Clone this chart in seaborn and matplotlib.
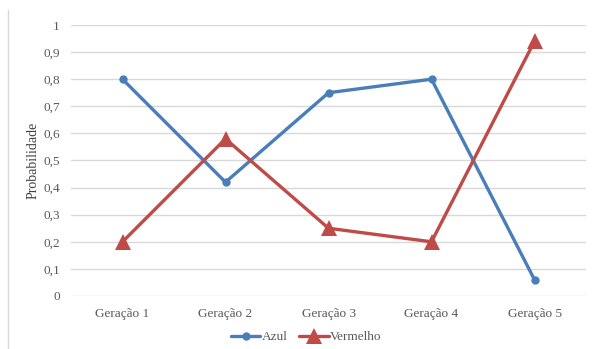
import matplotlib
matplotlib.use("Agg")
import matplotlib.pyplot as plt
from matplotlib.lines import Line2D
from matplotlib.ticker import FuncFormatter, MultipleLocator
import seaborn as sns
import pandas as pd

geracoes = ["Geração 1", "Geração 2", "Geração 3", "Geração 4", "Geração 5"]
azul = [0.80, 0.42, 0.75, 0.80, 0.06]
vermelho = [0.20, 0.58, 0.25, 0.20, 0.94]

df = pd.DataFrame({
    "Geração": geracoes * 2,
    "Probabilidade": azul + vermelho,
    "Série": ["Azul"] * len(azul) + ["Vermelho"] * len(vermelho),
})
df["pos"] = list(range(len(geracoes))) * 2

sns.set_theme(style="white")
plt.rcParams["font.family"] = ["Liberation Serif", "DejaVu Serif"]

fig = plt.figure(figsize=(5.96, 3.49), dpi=100)
ax = fig.add_axes([71 / 596, 1 - 296 / 349, 515 / 596, 271 / 349])

palette = {"Azul": "#4a7ebb", "Vermelho": "#be4b48"}
markers = {"Azul": "o", "Vermelho": "^"}
sizes = {"Azul": 6, "Vermelho": 11}
for serie, sub in df.groupby("Série", sort=False):
    sns.lineplot(data=sub, x="pos", y="Probabilidade", ax=ax,
                 color=palette[serie], marker=markers[serie],
                 markersize=sizes[serie], markeredgewidth=0,
                 linewidth=2.4, label=serie, zorder=3)

ax.set_xlim(-0.5, len(geracoes) - 0.5)
ax.set_ylim(0, 1)
ax.set_xticks(range(len(geracoes)))
ax.set_xticklabels(geracoes)
ax.yaxis.set_major_locator(MultipleLocator(0.1))
ax.yaxis.set_major_formatter(FuncFormatter(
    lambda v, _: "0" if abs(v) < 1e-9 else ("1" if abs(v - 1) < 1e-9 else f"{v:.1f}".replace(".", ","))))
ax.grid(axis="y", color="#d9d9d9", linewidth=1.0)
ax.set_axisbelow(True)
for s in ax.spines.values():
    s.set_visible(False)
ax.tick_params(axis="both", length=0, labelsize=9.5, colors="#595959")
ax.tick_params(axis="y", pad=8)
ax.tick_params(axis="x", pad=9)
ax.set_xlabel("")
ax.set_ylabel("Probabilidade", fontsize=10, color="#404040")
ax.yaxis.set_label_coords(-0.061, 0.5)

ax.legend(loc="upper center", bbox_to_anchor=(0.457, -0.085), ncol=2, frameon=False,
          fontsize=9.5, handlelength=2.2, handletextpad=0.1, columnspacing=0.9,
          labelcolor="#595959")

fig.add_artist(Line2D([8 / 596, 8 / 596], [0, 1 - 10 / 349], transform=fig.transFigure,
                      color="#d9d9d9", linewidth=1.0))

fig.savefig("out.png", dpi=100, facecolor="white")
